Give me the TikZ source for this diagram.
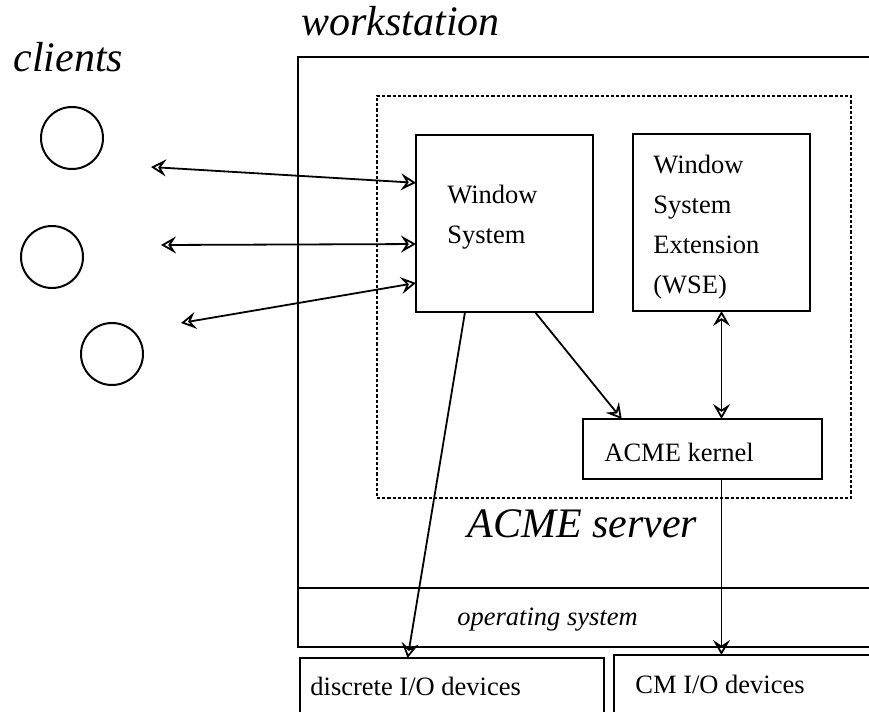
\documentclass[tikz,border=0pt]{standalone}
\usepackage{fontspec}
\setmainfont{Liberation Serif}
\usetikzlibrary{arrows.meta,positioning,calc}

\tikzset{
  acmetip/.tip={Stealth[open,length=7.5pt,width=8.5pt,inset=2.8pt,line width=0.9pt]},
  boxnode/.style={draw,line width=1pt,anchor=north west,inner sep=0pt,outer sep=0pt},
  txt/.style={font=\fontsize{13.25}{20}\selectfont,align=left,inner sep=0pt},
  bigtxt/.style={font=\fontsize{21}{25}\selectfont\itshape,inner sep=0pt},
  link/.style={line width=0.9pt,-acmetip},
  dbl/.style={line width=0.9pt,acmetip-acmetip}
}

\begin{document}
\begin{tikzpicture}[x=0.5pt,y=-0.5pt]
\useasboundingbox (0,0) rectangle (869,712);
\clip (0,0) rectangle (869,712);

% workstation frame and operating system row
\node[boxnode,minimum width=301pt,minimum height=265.5pt] (wst) at (298,57) {};
\node[boxnode,minimum width=301pt,minimum height=29.5pt] (os) at (298,588) {};
\node[bigtxt,anchor=base west] (wstlbl) at (301,35) {workstation};
\node[txt,font=\fontsize{13.25}{20}\selectfont\itshape,anchor=base west] (oslbl) at (457,625) {operating system};

% ACME server (dashed)
\node[boxnode,line width=0.9pt,dash pattern=on 1.6pt off 1pt,
      minimum width=237pt,minimum height=201pt] (srv) at (377,96) {};
\node[bigtxt,anchor=base west] (srvlbl) at (467,537) {ACME server};

% boxes inside the server
\node[boxnode,minimum width=88.5pt,minimum height=88.5pt,
      label={[txt,anchor=north west,xshift=15.5pt,yshift=-25pt]north west:{Window\\System}}]
  (ws) at (416,135) {};
\node[boxnode,minimum width=88.5pt,minimum height=88.5pt,
      label={[txt,anchor=north west,xshift=10pt,yshift=-10.5pt]north west:{Window\\System\\Extension\\(WSE)}}]
  (wse) at (633,134) {};
\node[boxnode,minimum width=119.5pt,minimum height=30pt,
      label={[txt,anchor=north west,xshift=10.5pt,yshift=-12pt]north west:{ACME kernel}}]
  (kern) at (583,419) {};

% I/O devices
\node[boxnode,minimum width=152pt,minimum height=50pt,
      label={[txt,anchor=north west,xshift=5pt,yshift=-9.5pt]north west:{discrete I/O devices}}]
  (dio) at (300,658) {};
\node[boxnode,minimum width=150pt,minimum height=50pt,
      label={[txt,anchor=north west,xshift=10.5pt,yshift=-10pt]north west:{CM I/O devices}}]
  (cmio) at (614,655) {};

% clients
\node[bigtxt,anchor=base west] (cllbl) at (13,71) {clients};
\foreach \n/\cx/\cy in {1/72/138, 2/52/257, 3/112/354}
  \node[draw,circle,line width=1pt,minimum size=31pt,inner sep=0pt] (cl\n) at (\cx,\cy) {};

\coordinate (p1) at (151,167);
\coordinate (p2) at (161,245);
\coordinate (p3) at (181,323);

% connectors
\draw[dbl] (p1) -- ($(ws.north west)!0.27!(ws.south west)$);
\draw[dbl] (p2) -- ($(ws.north west)!0.616!(ws.south west)$);
\draw[dbl] (p3) -- ($(ws.north west)!0.836!(ws.south west)$);
\draw[link] ($(ws.south west)!0.672!(ws.south east)$) -- ($(kern.north west)!0.162!(kern.north east)$);
\draw[dbl] (wse.south) -- (wse.south |- kern.north);
\draw[link] ($(ws.south west)!0.277!(ws.south east)$) -- ($(dio.north west)!0.354!(dio.north east)$);
\draw[link] (kern.south -| wse.south) -- (cmio.north -| wse.south);
\end{tikzpicture}
\end{document}
